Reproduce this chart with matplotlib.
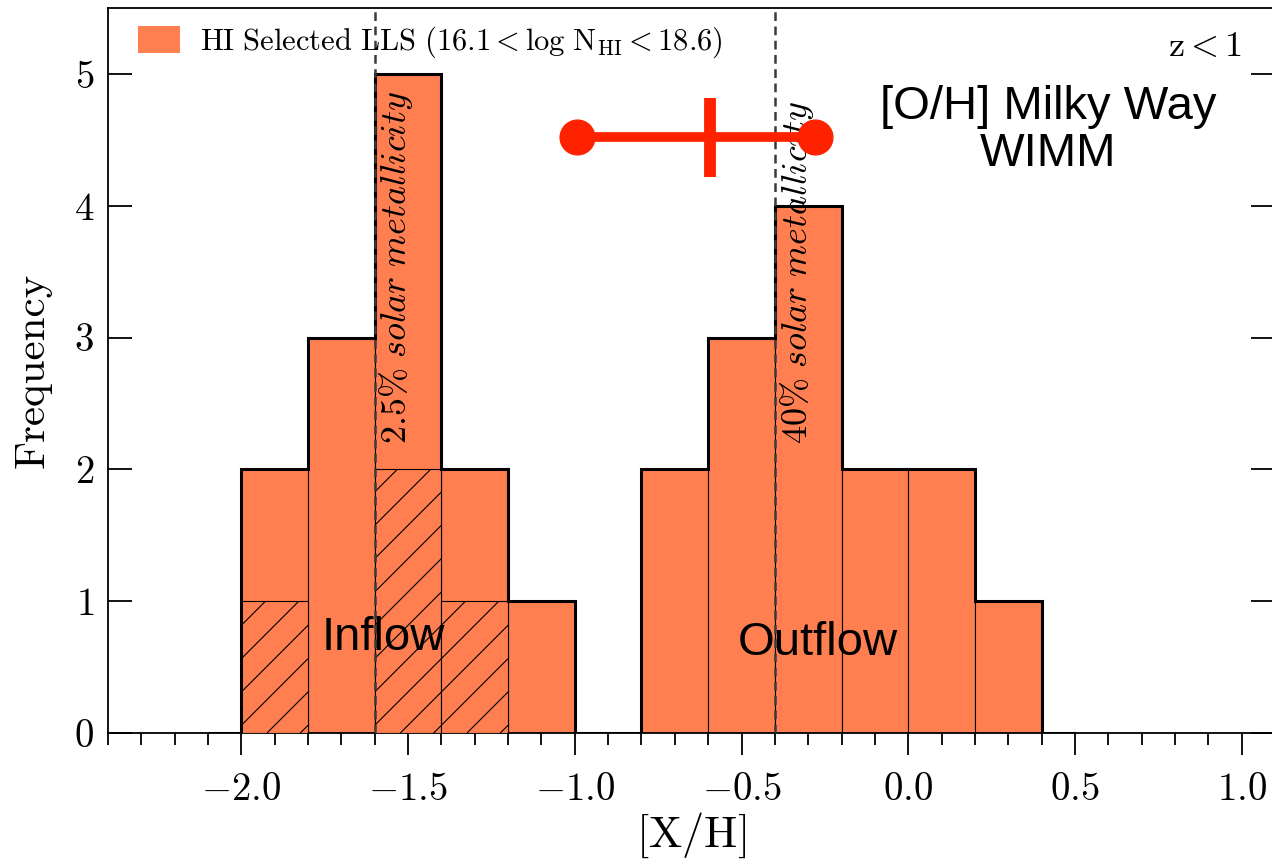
import numpy as np
import matplotlib
matplotlib.use('Agg')
import matplotlib.pyplot as plt
from matplotlib.patches import Patch

plt.rcParams['font.family'] = 'serif'
plt.rcParams['font.serif'] = ['cmr10']
plt.rcParams['mathtext.fontset'] = 'cm'
plt.rcParams['axes.formatter.use_mathtext'] = True
plt.rcParams['hatch.linewidth'] = 0.8

# metallicity histogram, bins of 0.2 dex
bin_lefts = [-2.0, -1.8, -1.6, -1.4, -1.2, -1.0, -0.8, -0.6, -0.4, -0.2, 0.0, 0.2]
all_counts = [2, 3, 5, 2, 1, 0, 2, 3, 4, 2, 2, 1]
hatch_counts = [1, 0, 2, 1, 0, 0, 0, 0, 0, 0, 0, 0]
bin_width = 0.2

# solar metallicity reference lines
solar_x = [-1.6, -0.4]
solar_labels = [r'$\mathit{2.5\%\ solar\ metallicity}$', r'$\mathit{40\%\ solar\ metallicity}$']

# Milky Way WIMM [O/H] range
wimm_range = [-0.993, -0.279]
wimm_y = 4.52
wimm_mid = -0.594
wimm_err = 0.30

coral = '#ff7f50'
red = '#ff2200'

fig = plt.figure(figsize=(12.72, 8.66), dpi=100)
ax = fig.add_axes([108/1272, 1 - 733/866, 1167/1272, 725/866])

ax.bar(bin_lefts, all_counts, width=bin_width, align='edge', color=coral,
       edgecolor='black', linewidth=0.8, zorder=2)
ax.bar(bin_lefts, hatch_counts, width=bin_width, align='edge', color=coral,
       edgecolor='black', linewidth=0.8, hatch='/', zorder=3)

# thick outline around the whole histogram
edges = np.concatenate([[bin_lefts[0] - 0.1], bin_lefts,
                        [bin_lefts[-1] + bin_width, bin_lefts[-1] + bin_width + 0.1]])
outline = np.concatenate([[0], all_counts, [0]])
ax.stairs(outline, edges, color='black', linewidth=2.2, baseline=None, zorder=4)

for x, lab in zip(solar_x, solar_labels):
    ax.axvline(x, color='#3a3a3a', linewidth=1.8, dashes=(3.5, 2.2), zorder=5)
    ax.text(x + 0.065, 2.19, lab, rotation=90, ha='center', va='bottom',
            fontsize=26, zorder=6)

ax.plot(wimm_range, [wimm_y, wimm_y], color=red, linewidth=7, marker='o',
        markersize=25, solid_capstyle='butt', zorder=7)
ax.plot([wimm_mid, wimm_mid], [wimm_y - wimm_err, wimm_y + wimm_err], color=red,
        linewidth=8.5, solid_capstyle='butt', zorder=7)

sans = 'Liberation Sans'
ax.text(-1.575, 0.72, 'Inflow', family=sans, fontsize=34, ha='center', va='center', zorder=8)
ax.text(-0.27, 0.68, 'Outflow', family=sans, fontsize=34, ha='center', va='center', zorder=8)
ax.text(0.42, 4.57, '[O/H] Milky Way\nWIMM', family=sans, fontsize=34, ha='center',
        va='center', linespacing=1.1, zorder=8)
ax.text(1.0, 5.2, r'$\mathrm{z}<\mathrm{1}$', fontsize=26, ha='right', va='center')

handles = [Patch(facecolor=coral, edgecolor='none',
                 label=r'$\mathrm{HI\ Selected\ LLS\ (16.1}<\mathrm{log\ N_{HI}}<\mathrm{18.6)}$')]
ax.legend(handles=handles, loc='upper left', frameon=False, fontsize=22,
          handlelength=1.4, handleheight=0.95, handletextpad=0.65,
          bbox_to_anchor=(0.011, 1.0), borderaxespad=0.15)

ax.set_xlim(-2.4, 1.1)
ax.set_ylim(0, 5.5)
ax.set_xticks([-2.0, -1.5, -1.0, -0.5, 0.0, 0.5, 1.0])
ax.set_xticks(np.arange(-2.4, 1.1, 0.1), minor=True)
ax.set_yticks([0, 1, 2, 3, 4, 5])
ax.xaxis.set_major_formatter(matplotlib.ticker.FuncFormatter(lambda v, p: r'$%.1f$' % v))
ax.tick_params(axis='x', which='major', direction='out', length=16, width=1.3,
               labelsize=28, pad=12)
ax.tick_params(axis='x', which='minor', direction='out', length=8.5, width=1.3)
ax.tick_params(axis='y', which='major', direction='in', length=17, width=1.3,
               labelsize=28, pad=10, right=True)
for s in ax.spines.values():
    s.set_linewidth(1.3)
ax.set_xlabel(r'$\mathrm{[X/H]}$', fontsize=32, labelpad=2)
ax.set_ylabel('Frequency', fontsize=31, labelpad=16)

fig.savefig('out.png', dpi=100)
